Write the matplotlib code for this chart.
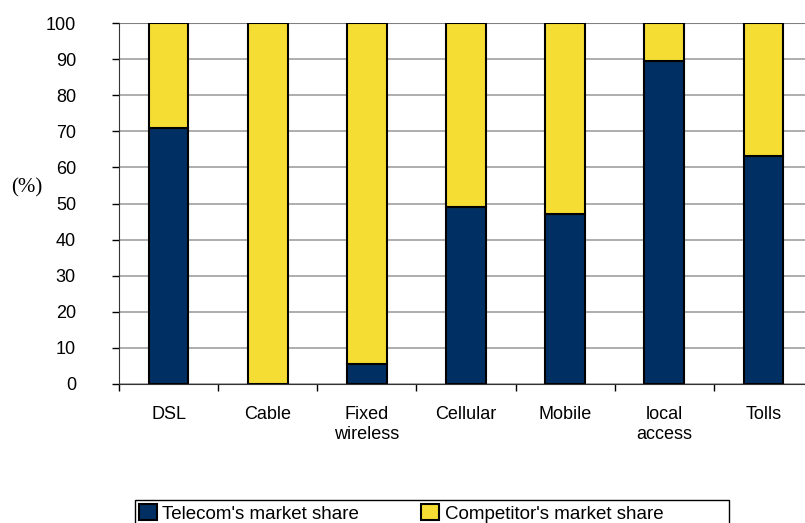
import matplotlib.pyplot as plt
from matplotlib.patches import Rectangle
import numpy as np

plt.rcParams['font.family'] = ['Liberation Sans', 'DejaVu Sans']

categories = ["DSL", "Cable", "Fixed\nwireless", "Cellular", "Mobile", "local\naccess", "Tolls"]
telecom = [70.8, 0, 5.5, 49, 47.1, 89.6, 63.2]
competitor = [100 - t for t in telecom]

navy = "#003063"
yellow = "#F6DD33"

fig = plt.figure(figsize=(8.05, 5.23), dpi=100)
ax = fig.add_axes([119 / 805, 1 - 384 / 523, 694 / 805, 361 / 523])

x = np.arange(len(categories))
ax.bar(x, telecom, width=0.4, color=navy, edgecolor="black", linewidth=1.5,
       label="Telecom's market share", zorder=3)
ax.bar(x, competitor, width=0.4, bottom=telecom, color=yellow, edgecolor="black",
       linewidth=1.5, label="Competitor's market share", zorder=3)

ax.set_xlim(-0.5, len(categories) - 0.5)
ax.set_ylim(0, 100)
ax.set_yticks(range(0, 101, 10))
ax.yaxis.grid(True, color="#a0a0a0", linewidth=1.2)
ax.set_axisbelow(True)
ax.tick_params(axis="y", labelsize=13, length=5, width=1, colors="black", pad=26)

# category labels centred, tick marks between categories
ax.set_xticks(x)
ax.set_xticklabels(categories, fontsize=13, linespacing=1.2)
ax.tick_params(axis="x", which="major", length=0, pad=16)
ax.set_xticks(np.arange(len(categories)) - 0.5, minor=True)
ax.tick_params(axis="x", which="minor", length=5, width=1)

for side in ["top", "right"]:
    ax.spines[side].set_visible(False)
ax.spines["left"].set_color("#333333")
ax.spines["bottom"].set_color("#333333")
ax.axhline(100, color="#808080", linewidth=1.5, zorder=2)

fig.text(11 / 805, 1 - 188 / 523, "(%)", family="Liberation Serif", fontsize=15,
         ha="left", va="center")

# legend box runs off the bottom edge
fig.patches.append(Rectangle((135 / 805, -0.05), (729 - 135) / 805, 0.05 + 23 / 523,
                             transform=fig.transFigure, fill=False,
                             edgecolor="black", linewidth=1))
fig.legend(loc="upper left", bbox_to_anchor=(139 / 805, 1 - 504 / 523),
           ncol=2, frameon=False, fontsize=13.5, handlelength=0.95,
           handleheight=0.95, handletextpad=0.3, columnspacing=3.3,
           borderpad=0, borderaxespad=0)

fig.savefig("out.png", dpi=100)
